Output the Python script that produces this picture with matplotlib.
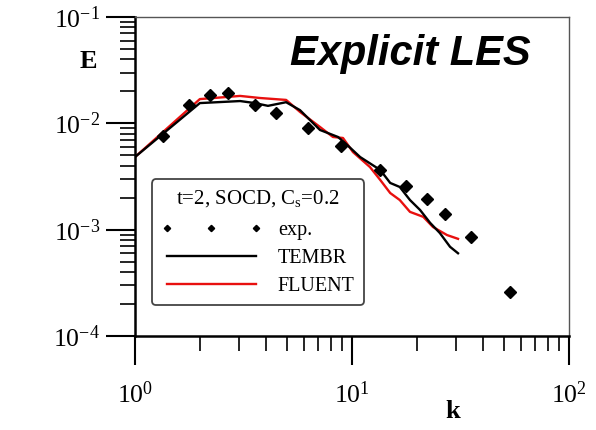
import matplotlib
matplotlib.use("Agg")
import matplotlib.pyplot as plt
from matplotlib.ticker import LogLocator, FuncFormatter, NullFormatter

plt.rcParams['mathtext.fontset'] = 'custom'
plt.rcParams['mathtext.rm'] = 'Liberation Serif'
plt.rcParams['mathtext.it'] = 'Liberation Serif:italic'
plt.rcParams['mathtext.bf'] = 'Liberation Serif:bold'
plt.rcParams['font.family'] = ['Liberation Serif', 'DejaVu Serif']

# experimental data (diamonds)
exp_k = [1.35, 1.77, 2.22, 2.68, 3.57, 4.47, 6.27, 8.9, 13.5, 17.7, 22.2, 26.8, 35.3, 53.5]
exp_E = [7.6e-3, 1.49e-2, 1.85e-2, 1.93e-2, 1.49e-2, 1.25e-2, 9.0e-3, 6.1e-3,
         3.64e-3, 2.58e-3, 1.94e-3, 1.40e-3, 8.5e-4, 2.6e-4]

# TEMBR (black line)
tembr_k = [1.0, 1.99, 3.05, 3.57, 4.10, 4.97, 5.76, 7.12, 8.62, 9.29, 10.9, 13.5,
           15.0, 16.6, 18.5, 20.6, 22.9, 25.4, 28.3, 30.8]
tembr_E = [4.82e-3, 1.55e-2, 1.62e-2, 1.55e-2, 1.46e-2, 1.58e-2, 1.33e-2, 8.66e-3,
           7.44e-3, 6.53e-3, 4.82e-3, 3.64e-3, 2.75e-3, 2.52e-3, 1.90e-3, 1.53e-3,
           1.16e-3, 9.3e-4, 6.9e-4, 6.0e-4]

# FLUENT (red line)
fluent_k = [1.0, 1.99, 3.05, 3.77, 4.97, 5.76, 7.12, 8.17, 9.09, 10.1, 12.1, 13.5,
            15.0, 16.6, 18.5, 21.3, 23.6, 27.4, 30.8]
fluent_E = [4.82e-3, 1.69e-2, 1.81e-2, 1.73e-2, 1.66e-2, 1.28e-2, 9.24e-3, 7.44e-3,
            7.28e-3, 5.37e-3, 3.88e-3, 2.93e-3, 2.21e-3, 1.90e-3, 1.47e-3, 1.32e-3,
            1.06e-3, 8.9e-4, 8.2e-4]

x_limits = (1, 100)
y_limits = (1e-4, 1e-1)

fig = plt.figure(figsize=(5.96, 4.30), dpi=100)
ax = fig.add_axes([0.2265, 0.2186, 0.7282, 0.7419])

ax.plot(tembr_k, tembr_E, color='black', lw=1.7, label='TEMBR', zorder=3)
ax.plot(fluent_k, fluent_E, color='#e8100f', lw=1.7, label='FLUENT', zorder=2)
ax.plot(exp_k, exp_E, ls='none', marker='D', ms=5.8, color='black', label='exp.', zorder=4)

ax.set_xscale('log')
ax.set_yscale('log')
ax.set_xlim(*x_limits)
ax.set_ylim(*y_limits)

def fmt(v, pos):
    import math
    e = int(round(math.log10(v)))
    return r'$\mathregular{10^{%d}}$' % e

ax.xaxis.set_major_locator(LogLocator(base=10, numticks=10))
ax.yaxis.set_major_locator(LogLocator(base=10, numticks=10))
ax.xaxis.set_minor_locator(LogLocator(base=10, subs=range(2, 10), numticks=20))
ax.yaxis.set_minor_locator(LogLocator(base=10, subs=range(2, 10), numticks=20))
ax.xaxis.set_major_formatter(FuncFormatter(fmt))
ax.yaxis.set_major_formatter(FuncFormatter(fmt))
ax.xaxis.set_minor_formatter(NullFormatter())
ax.yaxis.set_minor_formatter(NullFormatter())

ax.tick_params(which='both', direction='out', top=False, right=False, colors='black')
ax.tick_params(which='major', length=21, width=1.5, labelsize=18.5)
ax.tick_params(which='minor', length=11, width=1.2)
ax.tick_params(axis='x', which='major', pad=12)
ax.tick_params(axis='y', which='major', pad=4)

for s in ['left', 'bottom']:
    ax.spines[s].set_color('black')
    ax.spines[s].set_linewidth(1.8)
for s in ['top', 'right']:
    ax.spines[s].set_color('#555555')
    ax.spines[s].set_linewidth(1.0)

ax.set_xlabel('k', fontsize=19, fontweight='bold')
ax.xaxis.set_label_coords(0.733, -0.2)
ax.set_ylabel('E', fontsize=19, fontweight='bold', rotation=0, va='center', ha='center')
ax.yaxis.set_label_coords(-0.108, 0.859)

ax.text(0.634, 0.85, 'Explicit LES', transform=ax.transAxes, ha='center', va='baseline',
        fontsize=30, fontweight='bold', fontstyle='italic', family='Liberation Sans')

handles, labels = ax.get_legend_handles_labels()
order = [2, 0, 1]
leg = ax.legend([handles[i] for i in order], [labels[i] for i in order],
                title=r't=2, SOCD, C$_\mathregular{s}$=0.2',
                loc='lower left', bbox_to_anchor=(0.039, 0.097), borderaxespad=0,
                fontsize=14.5, title_fontsize=15, numpoints=3, markerscale=0.55,
                handlelength=5.0, handletextpad=0.8, labelspacing=0.45,
                fancybox=True, framealpha=1, edgecolor='#444444', borderpad=0.45)
leg.get_frame().set_linewidth(1.3)
leg._legend_box.sep = 8

fig.savefig('out.png', dpi=100)
